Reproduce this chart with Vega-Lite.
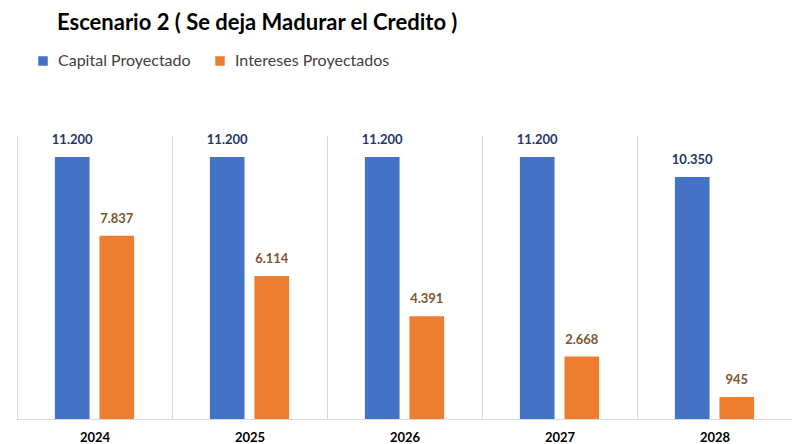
{
  "$schema": "https://vega.github.io/schema/vega-lite/v6.json",
  "width": 775,
  "height": 284,
  "autosize": {"type": "none"},
  "padding": {"left": 17, "top": 135, "right": 0, "bottom": 25},
  "background": "white",
  "config": {
    "locale": {"number": {"decimal": ",", "thousands": ".", "grouping": [3], "currency": ["", " €"]}},
    "view": {"stroke": null},
    "font": "Lato"
  },
  "title": {
    "text": "Escenario 2 ( Se deja Madurar el Credito )",
    "anchor": "start",
    "dx": 40,
    "offset": 18,
    "fontSize": 22,
    "fontWeight": "bold",
    "font": "Lato",
    "color": "#000000"
  },
  "data": {
    "values": [
      {"year": "2024", "serie": "Capital Proyectado", "valor": 11200},
      {"year": "2024", "serie": "Intereses Proyectados", "valor": 7837},
      {"year": "2025", "serie": "Capital Proyectado", "valor": 11200},
      {"year": "2025", "serie": "Intereses Proyectados", "valor": 6114},
      {"year": "2026", "serie": "Capital Proyectado", "valor": 11200},
      {"year": "2026", "serie": "Intereses Proyectados", "valor": 4391},
      {"year": "2027", "serie": "Capital Proyectado", "valor": 11200},
      {"year": "2027", "serie": "Intereses Proyectados", "valor": 2668},
      {"year": "2028", "serie": "Capital Proyectado", "valor": 10350},
      {"year": "2028", "serie": "Intereses Proyectados", "valor": 945}
    ]
  },
  "encoding": {
    "x": {
      "field": "year", "type": "nominal",
      "scale": {"paddingInner": 0, "paddingOuter": 0},
      "axis": {
        "title": null, "labelAngle": 0, "ticks": false, "grid": true, "tickBand": "extent",
        "gridColor": "#D9D9D9", "gridWidth": 1, "domainColor": "#D9D9D9",
        "labelFont": "Lato", "labelFontSize": 13, "labelFontWeight": "bold", "labelColor": "#000000",
        "labelPadding": 12
      }
    },
    "xOffset": {
      "field": "serie", "type": "nominal",
      "scale": {"paddingInner": 0.222, "paddingOuter": 0.85}
    },
    "y": {
      "field": "valor", "type": "quantitative",
      "scale": {"domain": [0, 12141], "nice": false},
      "axis": null
    }
  },
  "layer": [
    {
      "mark": {"type": "bar"},
      "encoding": {
        "color": {
          "field": "serie", "type": "nominal",
          "scale": {"domain": ["Capital Proyectado", "Intereses Proyectados"], "range": ["#4472C4", "#ED7D31"]},
          "legend": {
            "title": null, "orient": "none", "direction": "horizontal",
            "legendX": 18, "legendY": -82,
            "symbolType": "square", "symbolSize": 90, "symbolStrokeWidth": 0,
            "labelFont": "Lato", "labelFontSize": 16, "labelColor": "#404040",
            "columnPadding": 21, "labelOffset": 7
          }
        }
      }
    },
    {
      "mark": {"type": "text", "baseline": "bottom", "dy": -10, "fontSize": 13, "fontWeight": "bold", "font": "Lato"},
      "encoding": {
        "text": {"field": "valor", "type": "quantitative", "format": ",.0f"},
        "color": {
          "condition": {"test": "datum.serie === 'Capital Proyectado'", "value": "#1F3864"},
          "value": "#80552F"
        }
      }
    }
  ]
}
